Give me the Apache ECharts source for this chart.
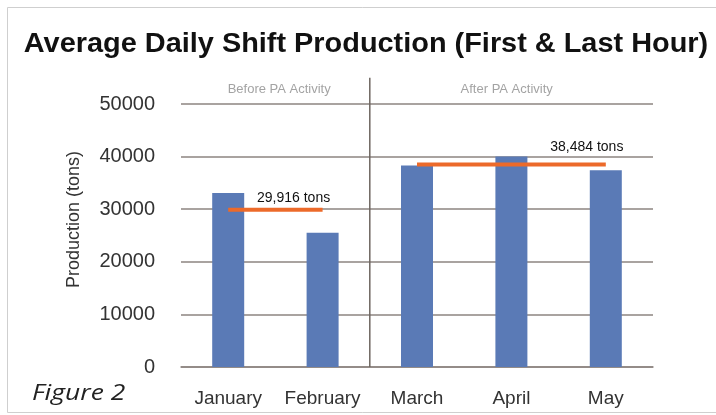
<!DOCTYPE html>
<html>
<head>
<meta charset="utf-8">
<script src="https://cdn.jsdelivr.net/npm/echarts@6/dist/echarts.min.js"></script>
<style>
  html, body { margin: 0; padding: 0; background: #fff; }
  #chart { width: 716px; height: 415px; }
</style>
</head>
<body>
<div id="chart"></div>
<script>
// data
const months = ['January', 'February', 'March', 'April', 'May']
const production = [33100, 25500, 38300, 40000, 37400]
const avgBefore = [29916, 29916, null, null, null]
const avgAfter = [null, null, 38484, 38484, 38484]
const avgLabels = ['29,916 tons', '38,484 tons']
const periodNames = ['Before PA Activity', 'After PA Activity']
const periodCenters = [1.04, 3.45] // on the hidden 0..5 x scale
const dividerAt = 2
const yTicks = { min: 0, max: 50000, interval: 10000 }

const gridColor = '#8d8580'
const chart = echarts.init(document.getElementById('chart'))

chart.setOption({
  backgroundColor: '#fff',
  animation: false,
  // the source picture is a bit stretched sideways, so these texts are scaled in x
  graphic: [
    {
      type: 'rect',
      shape: { x: 7.5, y: 7.5, width: 720, height: 405 },
      style: { fill: 'none', stroke: '#cfcfcf', lineWidth: 1 },
      silent: true
    },
    {
      type: 'text',
      x: 366,
      y: 45,
      scaleX: 1.07,
      style: {
        text: 'Average Daily Shift Production (First & Last Hour)',
        align: 'center',
        verticalAlign: 'middle',
        font: 'bold 27px "Liberation Sans"',
        fill: '#111'
      },
      silent: true
    },
    {
      type: 'text',
      x: 32,
      y: 394,
      scaleX: 1.2,
      style: {
        text: 'Figure 2',
        align: 'left',
        verticalAlign: 'middle',
        font: 'italic 22px "Open Sans"',
        fill: '#222'
      },
      silent: true
    }
  ],
  grid: { left: 181, right: 63, top: 104, bottom: 48 },
  xAxis: [
    {
      type: 'category',
      data: months,
      axisTick: { show: false },
      axisLine: { lineStyle: { color: gridColor, width: 1.5 } },
      axisLabel: { interval: 0, color: '#333', fontFamily: 'Liberation Sans', fontSize: 19, margin: 22 }
    },
    {
      type: 'value',
      min: 0,
      max: 5,
      show: false
    }
  ],
  yAxis: {
    type: 'value',
    min: yTicks.min,
    max: yTicks.max,
    interval: yTicks.interval,
    name: 'Production (tons)',
    nameLocation: 'middle',
    nameGap: 98,
    nameTextStyle: { color: '#333', fontFamily: 'Liberation Sans', fontSize: 18, padding: [0, 0, 0, 32] },
    axisLine: { show: false },
    axisTick: { show: false },
    axisLabel: {
      color: '#333',
      fontFamily: 'Liberation Sans',
      fontSize: 20,
      margin: 26,
      formatter: v => String(v)
    },
    splitLine: { lineStyle: { color: gridColor, width: 1.5 } }
  },
  series: [
    {
      type: 'bar',
      data: production,
      barWidth: 32,
      itemStyle: { color: '#5a7ab6' }
    },
    {
      type: 'line',
      data: avgBefore,
      symbol: 'circle',
      symbolSize: 0,
      showSymbol: true,
      lineStyle: { color: '#ec6a2a', width: 4 },
      label: {
        show: true,
        position: 'top',
        offset: [-29, 0],
        color: '#111',
        fontFamily: 'Liberation Sans',
        fontSize: 14,
        formatter: p => (p.dataIndex === 1 ? avgLabels[0] : '')
      }
    },
    {
      type: 'line',
      data: avgAfter,
      symbol: 'circle',
      symbolSize: 0,
      showSymbol: true,
      lineStyle: { color: '#ec6a2a', width: 4 },
      label: {
        show: true,
        position: 'top',
        offset: [-19, -5],
        color: '#111',
        fontFamily: 'Liberation Sans',
        fontSize: 14,
        formatter: p => (p.dataIndex === 4 ? avgLabels[1] : '')
      }
    },
    {
      // divider between the two periods
      type: 'line',
      xAxisIndex: 1,
      clip: false,
      symbol: 'none',
      silent: true,
      data: [[dividerAt, 0], [dividerAt, 55000]],
      lineStyle: { color: '#6e6660', width: 1.5 }
    },
    {
      type: 'scatter',
      xAxisIndex: 1,
      clip: false,
      symbolSize: 0,
      silent: true,
      data: periodNames.map((n, i) => [periodCenters[i], 52800, n]),
      label: {
        show: true,
        position: 'inside',
        color: '#8c8c8c',
        fontFamily: 'Liberation Sans',
        fontSize: 13,
        formatter: p => p.value[2]
      }
    }
  ]
})
</script>
</body>
</html>
